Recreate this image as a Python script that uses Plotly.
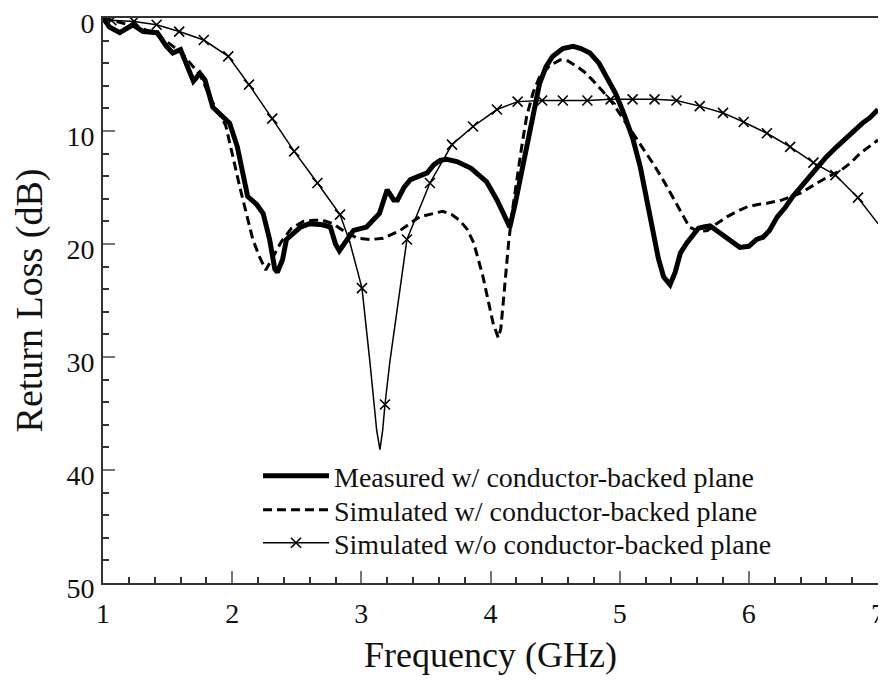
import plotly.graph_objects as go

# ---------------- data ----------------
meas_x = [1.00, 1.05, 1.13, 1.19, 1.23, 1.31, 1.42, 1.49, 1.54, 1.60, 1.65, 1.70, 1.75, 1.79,
          1.85, 1.91, 1.98, 2.04, 2.08, 2.12, 2.19, 2.24, 2.29, 2.33, 2.35, 2.39, 2.42, 2.50,
          2.53, 2.60, 2.70, 2.76, 2.80, 2.83, 2.89, 2.94, 3.04, 3.10, 3.14, 3.20, 3.25, 3.28,
          3.33, 3.38, 3.45, 3.51, 3.56, 3.61, 3.66, 3.74, 3.85, 3.92, 3.97, 4.05, 4.10, 4.15,
          4.19, 4.23, 4.27, 4.31, 4.38, 4.43, 4.48, 4.56, 4.64, 4.70, 4.77, 4.84, 4.90, 4.97,
          5.03, 5.10, 5.16, 5.21, 5.26, 5.30, 5.34, 5.39, 5.43, 5.47, 5.52, 5.57, 5.61, 5.65,
          5.70, 5.75, 5.80, 5.85, 5.93, 6.00, 6.06, 6.11, 6.16, 6.22, 6.28, 6.34, 6.40, 6.47,
          6.53, 6.60, 6.68, 6.76, 6.82, 6.88, 6.94, 7.00]
meas_y = [0.0, 0.8, 1.3, 0.9, 0.6, 1.2, 1.3, 2.5, 3.1, 2.8, 4.3, 5.6, 4.9, 5.5,
          7.9, 8.6, 9.3, 11.4, 13.7, 15.8, 16.5, 17.3, 19.6, 22.2, 22.5, 21.4, 19.6, 18.8,
          18.5, 18.2, 18.3, 18.5, 20.0, 20.6, 19.7, 18.8, 18.5, 17.8, 17.3, 15.2, 16.1, 16.1,
          15.0, 14.3, 14.0, 13.7, 13.0, 12.6, 12.5, 12.7, 13.3, 14.0, 14.5, 16.1, 17.3, 18.5,
          16.5, 14.3, 11.8, 9.6, 5.8, 4.3, 3.4, 2.7, 2.5, 2.7, 3.1, 4.0, 5.2, 6.7,
          8.4, 10.6, 13.2, 16.0, 19.1, 21.3, 22.9, 23.6, 22.5, 20.8, 19.9, 19.1, 18.6, 18.5,
          18.4, 18.8, 19.2, 19.6, 20.3, 20.2, 19.6, 19.4, 18.8, 17.6, 16.8, 15.8, 15.0, 14.1,
          13.2, 12.3, 11.4, 10.5, 9.9, 9.3, 8.8, 8.1]

sim_w_x = [1.00, 1.20, 1.40, 1.60, 1.75, 1.85, 1.95, 2.01, 2.06, 2.11, 2.16, 2.21, 2.26, 2.30,
           2.38, 2.46, 2.55, 2.63, 2.70, 2.78, 2.87, 2.97, 3.07, 3.17, 3.30, 3.45, 3.56, 3.63,
           3.70, 3.76, 3.82, 3.87, 3.94, 3.98, 4.02, 4.06, 4.08, 4.10, 4.14, 4.17, 4.20, 4.24,
           4.28, 4.33, 4.38, 4.46, 4.54, 4.60, 4.67, 4.73, 4.79, 4.87, 4.95, 5.02, 5.10, 5.18,
           5.26, 5.34, 5.41, 5.48, 5.54, 5.61, 5.68, 5.75, 5.83, 5.91, 5.99, 6.07, 6.14, 6.26,
           6.40, 6.53, 6.62, 6.71, 6.79, 6.86, 6.93, 7.00]
sim_w_y = [0.0, 0.6, 1.3, 3.0, 5.0, 7.5, 9.5, 12.6, 15.0, 17.3, 19.6, 21.1, 22.3, 21.5,
           19.8, 18.6, 18.0, 17.9, 17.9, 18.2, 18.9, 19.5, 19.6, 19.5, 18.8, 17.6, 17.3, 17.1,
           17.4, 17.9, 18.7, 19.9, 22.8, 25.0, 27.0, 28.3, 27.5, 25.0, 19.9, 17.0, 14.6, 11.5,
           8.7, 6.6, 5.2, 4.2, 3.7, 3.8, 4.3, 4.8, 5.5, 6.5, 7.6, 8.8, 10.2, 11.6,
           12.9, 14.4, 15.8, 17.3, 18.5, 18.9, 18.8, 18.2, 17.6, 17.1, 16.7, 16.5, 16.4, 16.1,
           15.5, 14.6, 14.0, 13.5, 12.8, 12.0, 11.4, 10.8]

# simulated without conductor-backed plane: curve and its x-marker positions
sim_wo_x = [1.00, 1.065, 1.24, 1.415, 1.59, 1.78, 1.97, 2.13, 2.31, 2.48, 2.66, 2.835, 2.91,
            3.005, 3.067, 3.119, 3.144, 3.165, 3.183, 3.22, 3.27, 3.353, 3.531, 3.702, 3.865,
            4.05, 4.21, 4.40, 4.56, 4.75, 4.93, 5.10, 5.27, 5.44, 5.62, 5.80, 5.96, 6.14,
            6.32, 6.50, 6.67, 6.845, 7.00]
sim_wo_y = [0.1, 0.2, 0.3, 0.6, 1.2, 1.95, 3.4, 5.9, 8.9, 11.8, 14.6, 17.4, 19.8,
            23.9, 30.5, 36.5, 38.2, 36.5, 34.2, 30.5, 26.4, 19.6, 14.6, 11.2, 9.6,
            8.1, 7.4, 7.3, 7.3, 7.3, 7.2, 7.2, 7.2, 7.3, 7.8, 8.4, 9.2, 10.2,
            11.4, 12.8, 13.9, 15.9, 18.2]
mark_x = [1.065, 1.24, 1.415, 1.59, 1.78, 1.97, 2.13, 2.31, 2.48, 2.66, 2.835, 3.005, 3.183,
          3.353, 3.531, 3.702, 3.865, 4.05, 4.21, 4.40, 4.56, 4.75, 4.93, 5.10, 5.27, 5.44,
          5.62, 5.80, 5.96, 6.14, 6.32, 6.50, 6.67, 6.845]
mark_y = [0.2, 0.3, 0.6, 1.2, 1.95, 3.4, 5.9, 8.9, 11.8, 14.6, 17.4, 23.9, 34.2,
          19.6, 14.6, 11.2, 9.6, 8.1, 7.4, 7.3, 7.3, 7.3, 7.2, 7.2, 7.2, 7.3,
          7.8, 8.4, 9.2, 10.2, 11.4, 12.8, 13.9, 15.9]

names = ["Measured w/ conductor-backed plane",
         "Simulated w/ conductor-backed plane",
         "Simulated w/o conductor-backed plane"]

x_ticks = [1, 2, 3, 4, 5, 6, 7]
y_ticks = [0, 10, 20, 30, 40, 50]

FONT = "Liberation Serif"
XMARK = dict(symbol="x-thin", size=10, color="black", line=dict(color="black", width=1.6))

fig = go.Figure()
fig.add_trace(go.Scatter(x=sim_wo_x, y=sim_wo_y, mode="lines",
                         line=dict(color="black", width=1.5),
                         showlegend=False, hoverinfo="skip"))
fig.add_trace(go.Scatter(x=mark_x, y=mark_y, mode="markers", marker=XMARK,
                         showlegend=False))
fig.add_trace(go.Scatter(x=sim_w_x, y=sim_w_y, mode="lines",
                         line=dict(color="black", width=3, dash="9px,5px"),
                         showlegend=False))
fig.add_trace(go.Scatter(x=meas_x, y=meas_y, mode="lines",
                         line=dict(color="black", width=5),
                         showlegend=False))

# legend entries (one legend per row for exact spacing)
fig.add_trace(go.Scatter(x=[None], y=[None], mode="lines", name=names[0],
                         line=dict(color="black", width=5), legend="legend"))
fig.add_trace(go.Scatter(x=[None], y=[None], mode="lines", name=names[1],
                         line=dict(color="black", width=3, dash="9px,5px"), legend="legend2"))
fig.add_trace(go.Scatter(x=[None], y=[None], mode="lines+markers", name=names[2],
                         line=dict(color="black", width=1.5), marker=XMARK, legend="legend3"))

axis_common = dict(
    showline=True, linecolor="#333", linewidth=2, mirror=True,
    ticks="inside", ticklen=12, tickwidth=1.5, tickcolor="#777",
    showgrid=False, zeroline=False, automargin=False,
    ticklabeloverflow="allow",
    tickfont=dict(family=FONT, size=28, color="#111"),
)

fig.update_xaxes(range=[1, 7], tickvals=x_ticks, ticktext=[str(v) for v in x_ticks],
                 minor=dict(dtick=0.2, ticks="inside", ticklen=6, tickcolor="#333", tickwidth=1.5),
                 title=dict(text="Frequency (GHz)", font=dict(family=FONT, size=36, color="#111"),
                            standoff=14),
                 ticklabelstandoff=4,
                 **axis_common)
fig.update_yaxes(range=[50, 0], tickvals=y_ticks, ticktext=[str(v) for v in y_ticks],
                 minor=dict(dtick=2, ticks="inside", ticklen=6, tickcolor="#333", tickwidth=1.5),
                 title=dict(text="Return Loss (dB)", font=dict(family=FONT, size=38, color="#111"),
                            standoff=12),
                 ticklabelstandoff=1, ticklabelshift=-5,
                 **axis_common)

leg_common = dict(x=0.2, xanchor="left", yanchor="middle",
                  bgcolor="rgba(0,0,0,0)", borderwidth=0,
                  font=dict(family=FONT, size=28, color="#111"), itemwidth=66)

# page body adds an 8px offset: figure is sized/margined so the plot area lands at
# x 103..878, y 18..583 in the window
fig.update_layout(
    width=878, height=674,
    margin=dict(l=95, r=8, t=10, b=99),
    paper_bgcolor="white", plot_bgcolor="white",
    font=dict(family=FONT, color="#111"),
    showlegend=True,
    legend=dict(y=0.1894, **leg_common),
    legend2=dict(y=0.1292, **leg_common),
    legend3=dict(y=0.0708, **leg_common),
)

fig.write_html("out.html")
